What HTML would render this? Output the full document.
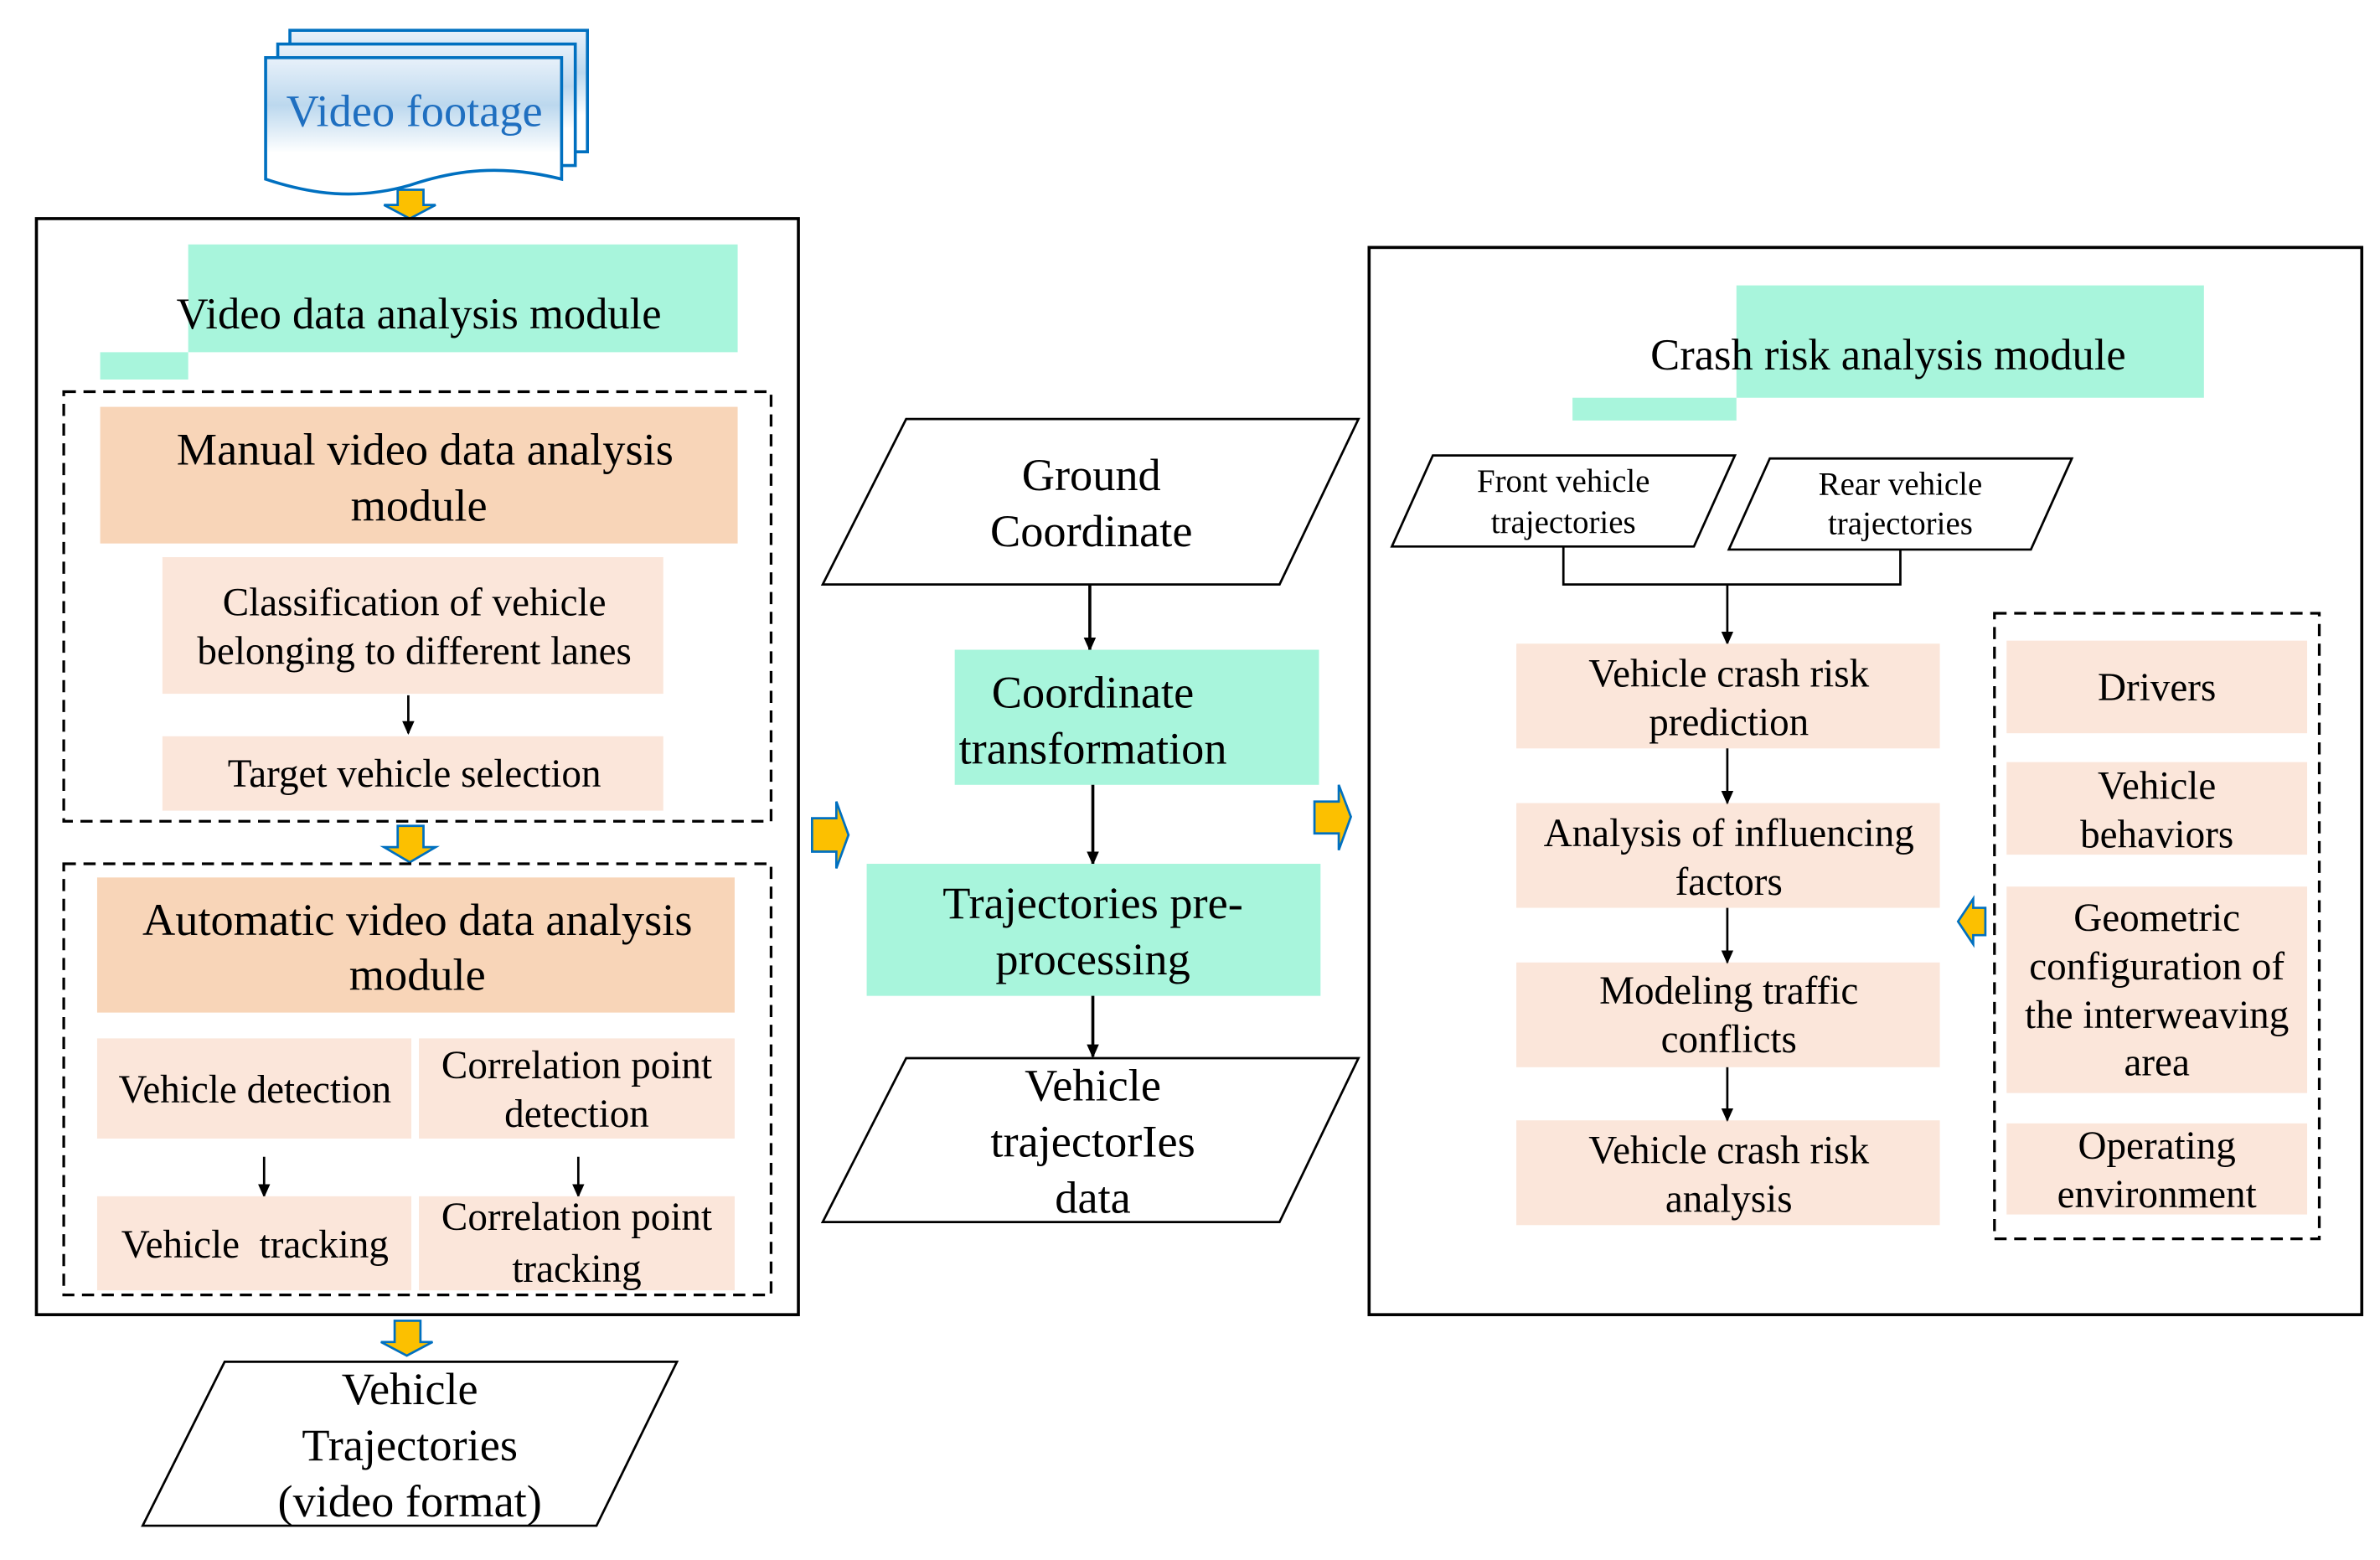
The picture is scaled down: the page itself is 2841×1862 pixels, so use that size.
<!DOCTYPE html>
<html><head><meta charset="utf-8"><style>
html,body{margin:0;padding:0;background:#fff}
svg{display:block}
text{font-family:"Liberation Serif",serif;fill:#000;text-anchor:middle;dominant-baseline:central}
.b{font-size:30px}.m{font-size:26px}.s{font-size:21.5px}
</style></head><body>
<svg width="2841" height="1862" viewBox="0 0 1568 1027.6" preserveAspectRatio="none" xmlns="http://www.w3.org/2000/svg">
<defs>
<linearGradient id="g" x1="0" y1="0" x2="0" y2="1">
<stop offset="0" stop-color="#e8f1fa"/><stop offset="0.35" stop-color="#bcd8ee"/><stop offset="0.7" stop-color="#fff"/><stop offset="1" stop-color="#fff"/></linearGradient>
<marker id="a" markerWidth="10" markerHeight="10" refX="8" refY="5" orient="auto" markerUnits="userSpaceOnUse"><path d="M0,1 L9,5 L0,9 Z" fill="#000"/></marker>
</defs>
<g stroke="#0070c0" stroke-width="2" fill="url(#g)">
<path d="M191,20 H387 V100 H191 Z"/>
<path d="M183,29 H379 V109 H183 Z"/>
<path d="M175,38 H370 V118 C330,108 300,112 270,122 C235,132 205,128 175,118 Z"/>
</g>
<text x="273" y="73" style="font-size:30px;fill:#1f6fc0">Video footage</text>
<g fill="#fcc000" stroke="#0070c0" stroke-width="1.5">
<path d="M262,125 H279 V135 H287 L270,144 L253,135 H262 Z"/>
<path d="M262,544 H279 V558 H287 L270,568 L253,558 H262 Z"/>
<path d="M260,870 H277 V884 H285 L268,893 L251,884 H260 Z"/>
<path d="M535,539 H551 V528 L559,550 L551,572 V561 H535 Z"/>
<path d="M866,528 H882 V517 L890,538 L882,560 V549 H866 Z"/>
<path d="M1308,598 H1300 V592 L1290,607 L1300,622 V616 H1308 Z"/>
</g>
<rect x="24" y="144" width="502" height="722" fill="none" stroke="#000" stroke-width="2"/>
<rect x="124" y="161" width="362" height="71" fill="#a8f5dc"/>
<rect x="66" y="232" width="58" height="18" fill="#a8f5dc"/>
<text x="276" y="207" style="font-size:29px">Video data analysis module</text>
<rect x="42" y="258" width="466" height="283" fill="none" stroke="#000" stroke-width="1.8" stroke-dasharray="8,5"/>
<rect x="66" y="268" width="420" height="90" fill="#f8d5b8"/>
<text class="b" x="280" y="296">Manual video data analysis</text>
<text class="b" x="276" y="333">module</text>
<rect x="107" y="367" width="330" height="90" fill="#fbe6da"/>
<text class="m" x="273" y="397">Classification of vehicle</text>
<text class="m" x="273" y="429">belonging to different lanes</text>
<line x1="269" y1="458" x2="269" y2="483" stroke="#000" stroke-width="1.5" marker-end="url(#a)"/>
<rect x="107" y="485" width="330" height="49" fill="#fbe6da"/>
<text class="m" x="273" y="510">Target vehicle selection</text>
<rect x="42" y="569" width="466" height="284" fill="none" stroke="#000" stroke-width="1.8" stroke-dasharray="8,5"/>
<rect x="64" y="578" width="420" height="89" fill="#f8d5b8"/>
<text class="b" x="275" y="606">Automatic video data analysis</text>
<text class="b" x="275" y="642">module</text>
<rect x="64" y="684" width="207" height="66" fill="#fbe6da"/>
<rect x="276" y="684" width="208" height="66" fill="#fbe6da"/>
<text class="m" x="168" y="718">Vehicle detection</text>
<text class="m" x="380" y="702">Correlation point</text>
<text class="m" x="380" y="734">detection</text>
<line x1="174" y1="762" x2="174" y2="788" stroke="#000" stroke-width="1.5" marker-end="url(#a)"/>
<line x1="381" y1="762" x2="381" y2="788" stroke="#000" stroke-width="1.5" marker-end="url(#a)"/>
<rect x="64" y="788" width="207" height="62" fill="#fbe6da"/>
<rect x="276" y="788" width="208" height="62" fill="#fbe6da"/>
<text class="m" x="168" y="820" xml:space="preserve">Vehicle  tracking</text>
<text class="m" x="380" y="802">Correlation point</text>
<text class="m" x="380" y="836">tracking</text>
<path d="M148,897 H446 L393,1005 H94 Z" fill="#fff" stroke="#000" stroke-width="1.5"/>
<text class="b" x="270" y="915">Vehicle</text>
<text class="b" x="270" y="952">Trajectories</text>
<text class="b" x="270" y="989">(video format)</text>
<path d="M597,276 H895 L843,385 H542 Z" fill="#fff" stroke="#000" stroke-width="1.5"/>
<text class="b" x="719" y="313">Ground</text>
<text class="b" x="719" y="350">Coordinate</text>
<line x1="718" y1="385" x2="718" y2="428" stroke="#000" stroke-width="2" marker-end="url(#a)"/>
<rect x="629" y="428" width="240" height="89" fill="#a8f5dc"/>
<text class="b" x="720" y="456">Coordinate</text>
<text class="b" x="720" y="493">transformation</text>
<line x1="720" y1="517" x2="720" y2="569" stroke="#000" stroke-width="2" marker-end="url(#a)"/>
<rect x="571" y="569" width="299" height="87" fill="#a8f5dc"/>
<text class="b" x="720" y="595">Trajectories pre-</text>
<text class="b" x="720" y="632">processing</text>
<line x1="720" y1="656" x2="720" y2="696" stroke="#000" stroke-width="2" marker-end="url(#a)"/>
<path d="M597,697 H895 L843,805 H542 Z" fill="#fff" stroke="#000" stroke-width="1.5"/>
<text class="b" x="720" y="715">Vehicle</text>
<text class="b" x="720" y="752">trajectorIes</text>
<text class="b" x="720" y="789">data</text>
<rect x="902" y="163" width="654" height="703" fill="none" stroke="#000" stroke-width="2"/>
<rect x="1144" y="188" width="308" height="74" fill="#a8f5dc"/>
<rect x="1036" y="262" width="108" height="15" fill="#a8f5dc"/>
<text x="1244" y="234" style="font-size:29px">Crash risk analysis module</text>
<path d="M944,300 H1143 L1116,360 H917 Z" fill="#fff" stroke="#000" stroke-width="1.5"/>
<text class="s" x="1030" y="317">Front vehicle</text>
<text class="s" x="1030" y="344">trajectories</text>
<path d="M1166,302 H1365 L1338,362 H1139 Z" fill="#fff" stroke="#000" stroke-width="1.5"/>
<text class="s" x="1252" y="319">Rear vehicle</text>
<text class="s" x="1252" y="345">trajectories</text>
<path d="M1030,360 V385 H1252 V362" fill="none" stroke="#000" stroke-width="1.5"/>
<line x1="1138" y1="385" x2="1138" y2="424" stroke="#000" stroke-width="1.5" marker-end="url(#a)"/>
<g fill="#fbe6da">
<rect x="999" y="424" width="279" height="69"/>
<rect x="999" y="529" width="279" height="69"/>
<rect x="999" y="634" width="279" height="69"/>
<rect x="999" y="738" width="279" height="69"/>
</g>
<text class="m" x="1139" y="444">Vehicle crash risk</text>
<text class="m" x="1139" y="476">prediction</text>
<text class="m" x="1139" y="549">Analysis of influencing</text>
<text class="m" x="1139" y="581">factors</text>
<text class="m" x="1139" y="653">Modeling traffic</text>
<text class="m" x="1139" y="685">conflicts</text>
<text class="m" x="1139" y="758">Vehicle crash risk</text>
<text class="m" x="1139" y="790">analysis</text>
<line x1="1138" y1="493" x2="1138" y2="529" stroke="#000" stroke-width="1.5" marker-end="url(#a)"/>
<line x1="1138" y1="598" x2="1138" y2="634" stroke="#000" stroke-width="1.5" marker-end="url(#a)"/>
<line x1="1138" y1="703" x2="1138" y2="738" stroke="#000" stroke-width="1.5" marker-end="url(#a)"/>
<rect x="1314" y="404" width="214" height="412" fill="none" stroke="#000" stroke-width="1.8" stroke-dasharray="8,5"/>
<g fill="#fbe6da">
<rect x="1322" y="422" width="198" height="61"/>
<rect x="1322" y="502" width="198" height="61"/>
<rect x="1322" y="584" width="198" height="136"/>
<rect x="1322" y="740" width="198" height="60"/>
</g>
<text class="m" x="1421" y="453">Drivers</text>
<text class="m" x="1421" y="518">Vehicle</text>
<text class="m" x="1421" y="550">behaviors</text>
<text class="m" x="1421" y="605">Geometric</text>
<text class="m" x="1421" y="637">configuration of</text>
<text class="m" x="1421" y="669">the interweaving</text>
<text class="m" x="1421" y="700">area</text>
<text class="m" x="1421" y="755">Operating</text>
<text class="m" x="1421" y="787">environment</text>
</svg>
</body></html>
